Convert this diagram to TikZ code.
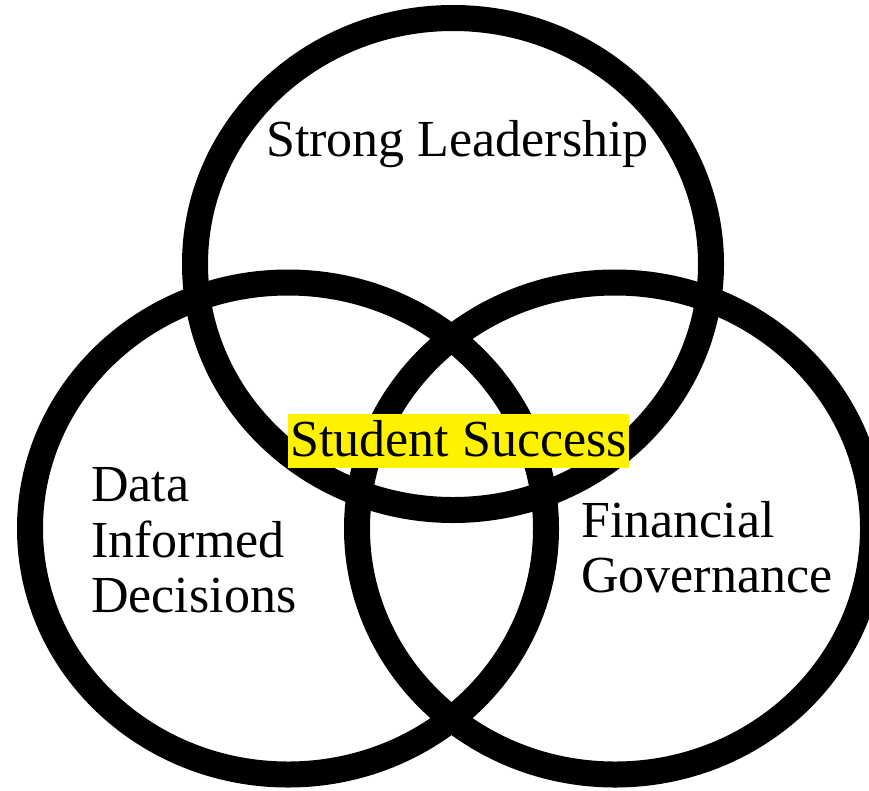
\documentclass[tikz,border=0pt]{standalone}
\usepackage{fontspec}
\setmainfont{Liberation Serif}
\begin{document}
\begin{tikzpicture}[x=1pt,y=-1pt,
  ring/.style={draw=black, line width=26pt},
  lbl/.style={font=\fontsize{52}{56}\selectfont, inner sep=0pt, anchor=base west},
  hilite/.style={font=\fontsize{52}{56}\selectfont, fill=yellow, inner sep=0pt,
    minimum width=341pt, text height=42pt, text depth=12pt, anchor=base},
]
\useasboundingbox (0,0) rectangle (869,790);
\fill[white] (0,0) rectangle (869,790);

% the three overlapping rings
\draw[ring] (453,264) ellipse [x radius=258pt, y radius=246pt];
\draw[ring] (288,528.5) ellipse [x radius=258pt, y radius=246pt];
\draw[ring] (615,528.5) ellipse [x radius=258pt, y radius=246pt];

% ring labels
\node[lbl] (lead) at (266,156) {Strong Leadership};
\node[lbl] (data1) at (91,501) {Data};
\node[lbl] (data2) at (91,557) {Informed};
\node[lbl] (data3) at (91,612) {Decisions};
\node[lbl] (fin1) at (581,537) {Financial};
\node[lbl] (fin2) at (581,592) {Governance};

% shared centre
\node[hilite] (success) at (458.5,456) {Student Success};
\end{tikzpicture}
\end{document}
